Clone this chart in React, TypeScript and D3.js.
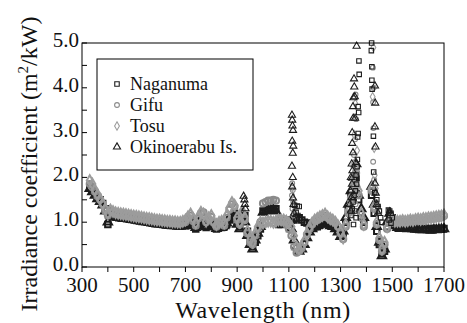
import React from 'react';
import * as d3 from 'd3';

// Sampling grid of the main band (nm)
const WAVELENGTHS: number[] = d3.range(330, 1701, 10);

// Main-band values (m2/kW) at each sampled wavelength, null = no data
const NAGANUMA: (number | null)[] = [
  1.78, 1.72, 1.64, 1.56, 1.50, 1.42, 1.30, 0.95, 1.18, 1.15,
  1.12, 1.12, 1.10, 1.10, 1.09, 1.08, 1.07, 1.06, 1.05, 1.04,
  1.04, 1.02, 1.01, 1.00, 0.99, 0.99, 0.97, 0.97, 0.96, 0.95,
  0.94, 0.94, 0.93, 0.93, 0.92, 0.92, 0.93, 0.92, 0.95, 1.00,
  0.95, 0.85, 0.92, 1.02, 0.98, 0.88, 0.94, 1.00, 0.90, 0.85,
  0.93, 0.88, 0.90, 0.95, 1.05, 1.15, 1.20, 1.00, 0.90, 1.10,
  1.15, 0.80, 0.60, 0.45, 0.55, 0.70, 0.85, 1.25, 1.27, 1.28,
  1.28, 1.30, 1.30, 0.95, 0.95, 0.97, 0.98, 1.00, 1.05, 1.05,
  1.08, 1.10, 1.05, 1.00, 0.98, 0.95, 0.92, 0.90, 0.90, 0.93,
  0.98, 1.02, 0.98, 0.93, 0.92, 0.88, 0.80, 0.70, 0.75, 1.00,
  1.30, 1.60, 1.80, 2.00, 1.50, 1.20, 1.00, null, null, 1.60,
  1.20, 0.80, 0.50, 0.30, 0.35, 0.90, 1.15, 1.10, 0.95, 0.90,
  0.88, 0.90, 0.88, 0.87, 0.88, 0.87, 0.86, 0.85, 0.85, 0.84,
  0.85, 0.84, 0.83, 0.85, 0.84, 0.85, 0.85, 0.86,
];
const OKINOERABU: (number | null)[] = [
  1.75, 1.68, 1.60, 1.52, 1.46, 1.38, 1.25, 1.00, 1.15, 1.13,
  1.11, 1.10, 1.09, 1.08, 1.08, 1.07, 1.06, 1.05, 1.04, 1.03,
  1.02, 1.01, 1.00, 0.99, 0.98, 0.97, 0.96, 0.96, 0.95, 0.94,
  0.93, 0.93, 0.92, 0.92, 0.91, 0.91, 0.92, 0.94, 0.98, 0.96,
  0.92, 0.88, 0.97, 1.00, 0.95, 0.90, 0.98, 0.97, 0.90, 0.86,
  0.92, 0.88, 0.92, 0.98, 1.08, 1.12, 1.10, 0.95, 0.85, 1.20,
  1.00, 0.70, 0.50, 0.40, 0.60, 0.75, 0.90, 1.22, 1.25, 1.26,
  1.27, 1.28, 1.25, 0.98, 0.98, 1.00, 1.02, 0.95, 0.85, 0.60,
  0.45, 0.35, 0.40, 0.50, 0.65, 0.78, 0.85, 0.90, 0.92, 0.95,
  0.98, 0.98, 0.95, 0.92, 0.90, 0.85, 0.78, 0.68, 0.80, 1.10,
  1.40, 1.70, 2.00, 2.30, 1.60, 1.30, 1.10, null, null, 1.80,
  1.40, 0.90, 0.55, 0.25, 0.40, 1.00, 1.20, 1.05, 0.92, 0.88,
  0.86, 0.88, 0.86, 0.85, 0.86, 0.85, 0.84, 0.84, 0.83, 0.83,
  0.84, 0.83, 0.82, 0.84, 0.83, 0.84, 0.84, 0.85,
];
const GIFU: (number | null)[] = [
  1.85, 1.78, 1.68, 1.58, 1.50, 1.40, 1.25, 1.15, 1.25, 1.22,
  1.19, 1.18, 1.17, 1.16, 1.15, 1.14, 1.13, 1.12, 1.11, 1.10,
  1.10, 1.08, 1.07, 1.06, 1.05, 1.05, 1.03, 1.03, 1.02, 1.01,
  1.00, 1.00, 0.99, 0.99, 0.98, 0.98, 0.99, 1.00, 1.08, 1.15,
  1.02, 0.92, 1.08, 1.20, 1.22, 1.00, 1.05, 1.12, 0.98, 0.90,
  0.95, 1.00, 0.92, 1.10, 1.28, 1.40, 1.35, 1.05, 0.95, 1.20,
  1.05, 0.75, 0.55, 0.50, 0.70, 0.85, 1.00, 1.42, 1.45, 1.48,
  1.48, 1.50, 1.48, 1.05, 1.02, 1.00, 0.95, 0.85, 0.70, 0.45,
  0.32, 0.35, 0.42, 0.55, 0.72, 0.85, 0.95, 1.02, 1.05, 1.08,
  1.12, 1.15, 1.10, 1.05, 1.02, 0.98, 0.90, 0.75, 0.62, 0.90,
  1.20, 1.50, 1.80, 2.10, 1.60, 1.10, 0.90, null, null, 1.70,
  1.30, 0.95, 0.60, 0.35, 0.50, 0.85, 1.00, 1.02, 1.00, 1.00,
  1.00, 1.02, 1.00, 1.02, 1.03, 1.02, 1.04, 1.05, 1.04, 1.05,
  1.06, 1.07, 1.08, 1.08, 1.10, 1.10, 1.12, 1.14,
];
const TOSU: (number | null)[] = [
  1.93, 1.85, 1.72, 1.62, 1.52, 1.42, 1.30, 1.20, 1.27, 1.24,
  1.21, 1.20, 1.19, 1.18, 1.17, 1.16, 1.15, 1.14, 1.13, 1.12,
  1.11, 1.10, 1.09, 1.08, 1.07, 1.06, 1.05, 1.05, 1.04, 1.03,
  1.02, 1.02, 1.01, 1.01, 1.00, 1.00, 1.02, 1.05, 1.12, 1.18,
  1.08, 0.98, 1.12, 1.22, 1.18, 1.02, 1.10, 1.15, 1.00, 0.95,
  1.00, 1.02, 0.98, 1.15, 1.32, 1.44, 1.38, 1.10, 1.00, 1.25,
  1.10, 0.80, 0.60, 0.55, 0.75, 0.90, 1.00, 0.98, 1.00, 1.02,
  1.02, 1.00, 1.02, 1.05, 1.05, 1.05, 1.02, 0.98, 0.90, 0.70,
  0.45, 0.40, 0.45, 0.58, 0.75, 0.88, 0.98, 1.05, 1.08, 1.12,
  1.15, 1.18, 1.12, 1.08, 1.05, 1.00, 0.92, 0.78, 0.65, 0.95,
  1.25, 1.55, 1.85, 2.20, 1.70, 1.20, 0.95, null, null, 1.75,
  1.35, 1.00, 0.65, 0.40, 0.55, 0.90, 1.02, 1.05, 1.02, 1.02,
  1.02, 1.04, 1.02, 1.03, 1.05, 1.04, 1.06, 1.07, 1.06, 1.08,
  1.08, 1.10, 1.10, 1.11, 1.12, 1.13, 1.14, 1.16,
];

// Scattered points in the absorption-band spikes: [wavelength nm, value]
const NAGANUMA_SPIKES: [number, number][] = [
  [1122, 1.38], [1132, 1.36], [1140, 1.35], [1128, 1.22], [1135, 1.15],
  [1371, 4.60], [1372, 4.30], [1368, 3.58], [1370, 3.45], [1368, 2.98], [1366, 2.90],
  [1365, 2.40], [1364, 2.24], [1360, 2.05], [1362, 1.85], [1357, 1.70], [1352, 1.60],
  [1348, 1.45], [1345, 1.30], [1340, 1.15], [1355, 1.25], [1360, 1.10], [1350, 0.95],
  [1420, 5.00], [1419, 4.83], [1421, 4.47], [1421, 4.17], [1422, 3.97], [1427, 2.92],
  [1428, 2.12], [1432, 1.66], [1440, 1.50], [1445, 1.35], [1450, 1.25], [1455, 1.10],
  [1460, 1.00], [1485, 1.27], [1490, 1.25], [1495, 1.20], [1500, 1.10], [1488, 1.05],
  [1495, 0.98],
];
const OKINOERABU_SPIKES: [number, number][] = [
  [925, 1.58], [928, 1.50], [930, 1.40], [932, 1.30],
  [1112, 3.39], [1113, 3.28], [1114, 3.15], [1116, 3.05], [1113, 2.81], [1117, 2.70],
  [1115, 2.54], [1112, 2.25], [1115, 2.00], [1113, 1.79], [1116, 1.54], [1118, 1.40],
  [1120, 1.20],
  [1362, 4.93], [1352, 4.20], [1353, 4.02], [1350, 3.78], [1355, 3.80], [1348, 3.58],
  [1349, 3.32], [1356, 3.32], [1345, 3.00], [1345, 2.76], [1348, 2.55], [1343, 2.30],
  [1346, 2.15], [1340, 2.00], [1344, 1.85], [1338, 1.70], [1342, 1.55], [1336, 1.40],
  [1340, 1.25],
  [1433, 4.04], [1434, 3.66], [1433, 3.13], [1435, 2.68], [1433, 1.87], [1436, 1.65],
  [1440, 1.40], [1445, 1.20],
];
const GIFU_SPIKES: [number, number][] = [
  [1113, 1.87], [1115, 1.72], [1112, 1.60], [1117, 1.45], [1114, 1.30], [1118, 1.15],
  [1358, 3.85], [1360, 3.30], [1356, 2.85], [1352, 2.50], [1354, 2.10], [1349, 1.85],
  [1346, 1.60], [1342, 1.35], [1358, 1.40], [1362, 1.20],
  [1425, 4.45], [1428, 4.00], [1426, 3.68], [1427, 3.10], [1426, 2.35], [1430, 1.95],
  [1433, 1.70], [1436, 1.45], [1440, 1.20],
];
const TOSU_SPIKES: [number, number][] = [
  [1114, 1.78], [1118, 1.50], [1121, 1.25],
  [1357, 3.65], [1353, 2.95], [1349, 2.30], [1346, 1.95], [1364, 2.60], [1366, 1.80],
  [1427, 4.90], [1424, 3.80], [1430, 2.65], [1432, 2.05], [1436, 1.75],
];

const SERIES_NAMES = ['Naganuma', 'Gifu', 'Tosu', 'Okinoerabu Is.'];
const X_TICKS = [300, 400, 500, 600, 700, 800, 900, 1000, 1100, 1200, 1300, 1400, 1500, 1600, 1700];
const X_LABELS = [300, 500, 700, 900, 1100, 1300, 1500, 1700];
const Y_TICKS = [0, 0.5, 1, 1.5, 2, 2.5, 3, 3.5, 4, 4.5, 5];
const Y_LABELS = [0, 1, 2, 3, 4, 5];

const FONT = "'Liberation Serif', 'Times New Roman', serif";

export default function App() {
  const W = 467, H = 323;
  const L = 82, R = 444, T = 43, B = 267;
  const x = d3.scaleLinear().domain([300, 1700]).range([L, R]);
  const y = d3.scaleLinear().domain([0, 5]).range([B, T]);

  const sym = (type: d3.SymbolType, size: number) => d3.symbol().type(type).size(size)() as string;
  const styles = [
    { name: SERIES_NAMES[0], band: NAGANUMA, spikes: NAGANUMA_SPIKES, path: sym(d3.symbolSquare, 20), color: '#1c1c1c' },
    { name: SERIES_NAMES[1], band: GIFU, spikes: GIFU_SPIKES, path: sym(d3.symbolCircle, 18), color: '#8a8a8a' },
    { name: SERIES_NAMES[2], band: TOSU, spikes: TOSU_SPIKES, path: sym(d3.symbolDiamond, 20), color: '#9c9c9c' },
    { name: SERIES_NAMES[3], band: OKINOERABU, spikes: OKINOERABU_SPIKES, path: sym(d3.symbolTriangle, 22), color: '#1c1c1c' },
  ];
  const bandPath = [
    sym(d3.symbolSquare, 30), sym(d3.symbolCircle, 30), sym(d3.symbolDiamond, 32), sym(d3.symbolTriangle, 30),
  ];
  const bandOrder = [0, 3, 1, 2];
  const spikeOrder = [1, 2, 0, 3];
  const txt = { fontFamily: FONT };

  return (
    <svg width={W} height={H} style={{ position: 'absolute', left: 0, top: 0, background: '#fff' }}>
      <rect x={0} y={0} width={W} height={H} fill="#fff" />
      {/* band markers */}
      {bandOrder.map((si) => {
        const s = styles[si];
        return (
          <g key={'b' + si}>
            {WAVELENGTHS.map((wl, i) => {
              const v = s.band[i];
              if (v == null) return null;
              return (
                <path key={i} d={bandPath[si]} transform={`translate(${x(wl)},${y(v)})`}
                  fill="none" stroke={s.color} strokeWidth={2} />
              );
            })}
          </g>
        );
      })}
      {spikeOrder.map((si) => {
        const s = styles[si];
        return (
          <g key={'s' + si}>
            {s.spikes.map(([wl, v], i) => (
              <path key={i} d={s.path} transform={`translate(${x(wl)},${y(v)})`}
                fill="none" stroke={s.color} strokeWidth={1.1} />
            ))}
          </g>
        );
      })}
      {/* frame */}
      <rect x={L} y={T} width={R - L} height={B - T} fill="none" stroke="#000" strokeWidth={1} />
      {/* x ticks */}
      {X_TICKS.map((t) => (
        <line key={t} x1={x(t)} x2={x(t)} y1={B} y2={B + 5} stroke="#000" strokeWidth={1} />
      ))}
      {X_LABELS.map((t) => (
        <text key={t} x={x(t)} y={292} textAnchor="middle" fontSize={21} fill="#111" style={txt}>{t}</text>
      ))}
      {/* y ticks */}
      {Y_TICKS.map((t) => (
        <line key={t} x1={L} x2={L + 5} y1={y(t)} y2={y(t)} stroke="#000" strokeWidth={1} />
      ))}
      {Y_LABELS.map((t) => (
        <text key={t} x={79} y={y(t) + 4} textAnchor="end" fontSize={21} fill="#111" style={txt}>{d3.format('.1f')(t)}</text>
      ))}
      {/* titles */}
      <text x={(L + R) / 2} y={318} textAnchor="middle" fontSize={24} letterSpacing={0.6} fill="#111" style={txt}>Wavelength (nm)</text>
      <text transform="translate(37,164) rotate(-90)" textAnchor="middle" fontSize={24} fill="#111" style={txt}>
        Irradiance coefficient (m<tspan dy={-9} fontSize={15}>2</tspan><tspan dy={9}>/kW)</tspan>
      </text>
      {/* legend */}
      <rect x={97} y={59} width={156} height={111} fill="#fff" stroke="#000" strokeWidth={1} />
      {styles.map((s, i) => {
        const ry = 84 + i * 21;
        return (
          <g key={'l' + i}>
            <path d={s.path} transform={`translate(117,${ry})`} fill="none" stroke={s.color} strokeWidth={1.1} />
            <text x={130} y={ry + 6} fontSize={18} fill="#111" style={txt}>{s.name}</text>
          </g>
        );
      })}
    </svg>
  );
}
